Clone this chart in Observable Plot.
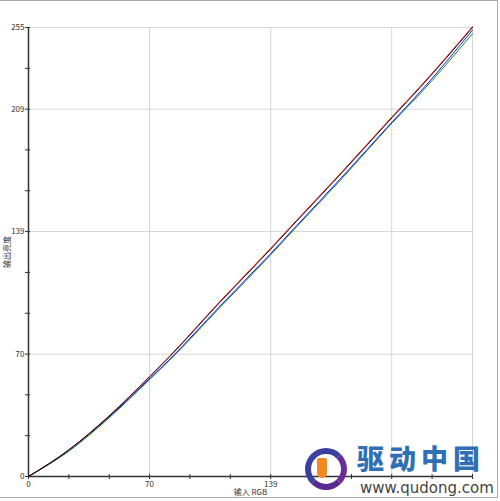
<!DOCTYPE html>
<html><head><meta charset="utf-8">
<script src="https://cdn.jsdelivr.net/npm/d3@7"></script>
<script src="https://cdn.jsdelivr.net/npm/@observablehq/plot@0.6"></script>
<style>
body{margin:0;background:#fff;}
#wrap{position:relative;width:500px;height:501px;overflow:hidden;font-family:"Liberation Sans",Arial,sans-serif;}
#frame{position:absolute;left:-2px;top:0;width:498px;height:496px;border:1px solid #a8a8a8;pointer-events:none;}
#logo{position:absolute;left:303px;top:446px;width:190px;height:50px;}
#ring{position:absolute;left:2px;top:2px;width:30px;height:30px;border-radius:50%;border:6px solid #3a3fa0;border-right-color:#6a2c9a;border-bottom-color:#5a2a90;}
#ringin{position:absolute;left:14px;top:12px;width:10px;height:20px;border-radius:3px 3px 8px 8px;background:#f08a20;}
#cn{position:absolute;left:54px;top:-3px;font-family:"Noto Sans CJK SC";font-weight:900;font-size:27px;color:#2f6fb5;letter-spacing:5px;line-height:30px;}
#url{position:absolute;left:57px;top:35px;font-family:"DejaVu Sans",sans-serif;font-size:15px;color:#444;line-height:15px;}
</style></head>
<body><div id="wrap"><div id="chart"></div><div id="frame"></div>
<div id="logo"><div id="ring"></div><div id="ringin"></div><div id="cn">驱动中国</div><div id="url">www.qudong.com</div></div>
</div>
<script>
const inputs = [0, 23, 46, 70, 81, 110, 139, 154, 180, 209, 225, 255];
const red   = [0, 15, 34.2, 57.3, 68.3, 99.5, 129.5, 145.5, 173, 204.5, 221.5, 255.5];
const black = [0, 15, 34, 57, 68, 99, 129, 145, 172.5, 204, 221, 255];
const blue  = [0, 14.8, 33.6, 56, 66.5, 96.8, 126.5, 142.5, 170, 201.5, 218.5, 253.5];
const green = [0, 14.2, 33, 55.5, 66, 96, 125.8, 141.8, 169.2, 201, 217.5, 251.5];
const seriesNames = ["green", "blue", "red", "black"];
const seriesColors = ["#6cc88a", "#4060c8", "#d07090", "#2a2a2a"];
const tickValues = [0, 23.2, 46.4, 69.5, 92.7, 115.9, 139.1, 162.3, 185.5, 208.6, 231.8, 255];
const xTickLabels = ["0", "", "", "70", "", "", "139", "", "", "", "", ""];
const yTickLabels = ["0", "", "", "70", "", "", "139", "", "", "209", "", "255"];
const gridValues = [69.5, 139.1, 208.6, 255];

const seriesValues = {green, blue, red, black};
const rows = seriesNames.flatMap(s => inputs.map((x, i) => ({s, x, y: seriesValues[s][i]})));
const fmtX = d => xTickLabels[tickValues.indexOf(d)] ?? "";
const fmtY = d => yTickLabels[tickValues.indexOf(d)] ?? "";
const blank = () => "";

const chart = Plot.plot({
  width: 500, height: 501,
  marginLeft: 28, marginRight: 28, marginTop: 27, marginBottom: 25,
  style: {fontFamily: "'Liberation Sans', Arial, sans-serif", fontSize: "8px", color: "#333", background: "#fff"},
  x: {type: "linear", domain: [0, 255]},
  y: {type: "linear", domain: [0, 255]},
  color: {domain: seriesNames, range: seriesColors},
  marks: [
    Plot.gridX(gridValues, {stroke: "#d6d6d6", strokeOpacity: 1}),
    Plot.gridY(gridValues, {stroke: "#d6d6d6", strokeOpacity: 1}),
    Plot.axisX({ticks: tickValues, tickFormat: fmtX, tickSize: 3, tickPadding: 2, stroke: "#333",
      label: "输入 RGB", labelAnchor: "center", labelArrow: "none", labelOffset: 18, fontFamily: "'Noto Sans CJK SC'"}),
    Plot.axisX({ticks: tickValues, tickFormat: blank, tickSize: -2, stroke: "#333", label: null}),
    Plot.axisY({ticks: tickValues, tickFormat: fmtY, tickSize: 3, tickPadding: 1, stroke: "#333",
      label: "输出亮度", labelAnchor: "center", labelArrow: "none", labelOffset: 24, fontFamily: "'Noto Sans CJK SC'"}),
    Plot.axisY({ticks: tickValues, tickFormat: blank, tickSize: -2, stroke: "#333", label: null}),
    Plot.ruleX([0], {stroke: "#333", strokeWidth: 1.5}),
    Plot.ruleY([0], {stroke: "#333", strokeWidth: 1.5}),
    Plot.line(rows, {x: "x", y: "y", z: "s", stroke: "s", strokeWidth: 0.9, curve: "monotone-x"})
  ]
});
document.getElementById("chart").append(chart);
</script></body></html>
